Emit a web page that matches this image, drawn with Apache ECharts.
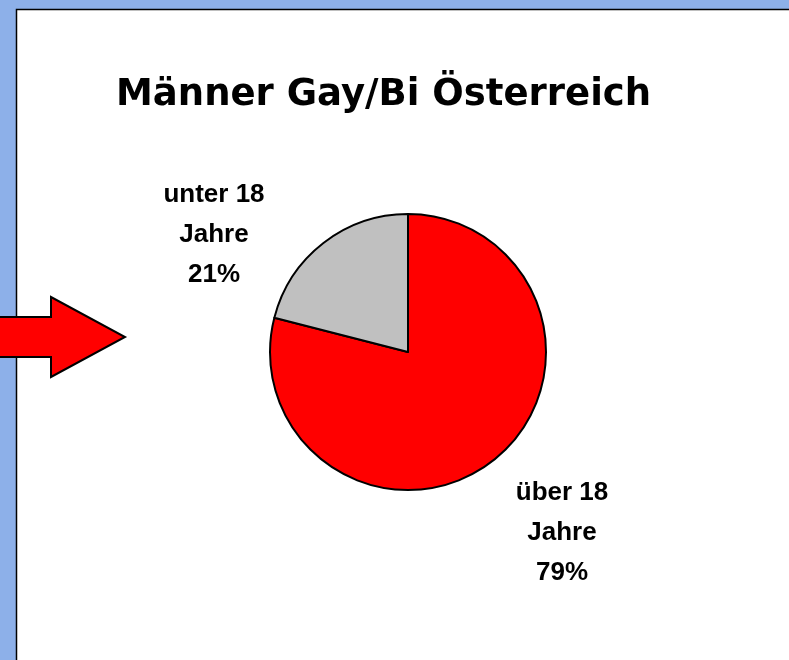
<!DOCTYPE html>
<html>
<head>
<meta charset="utf-8">
<script src="https://cdn.jsdelivr.net/npm/echarts@6/dist/echarts.min.js"></script>
<style>
  body { margin: 0; }
  #main { width: 789px; height: 660px; }
</style>
</head>
<body>
<div id="main"></div>
<script>
// Daten
var titel = 'Männer Gay/Bi Österreich';
var kategorien = ['über 18 Jahre', 'unter 18 Jahre'];
var anteile = [79, 21];
var farben = ['#ff0000', '#c0c0c0'];

// label positions (px) per slice
var labelPos = [[562, 533], [214, 235]];

var myChart = echarts.init(document.getElementById('main'));

myChart.setOption({
  backgroundColor: '#8db0e9',
  animation: false,
  title: {
    text: titel,
    left: 111,
    top: 72,
    textStyle: {
      fontFamily: 'DejaVu Sans',
      fontWeight: 'bold',
      fontSize: 37,
      color: '#000'
    }
  },
  graphic: [
    {
      type: 'rect',
      z: -10,
      shape: { x: 16.5, y: 9.5, width: 800, height: 700 },
      style: { fill: '#fff', stroke: '#000', lineWidth: 1.5 }
    },
    {
      type: 'polygon',
      z: 10,
      shape: {
        points: [[-5, 317], [51, 317], [51, 297], [125, 337], [51, 377], [51, 357], [-5, 357]]
      },
      style: { fill: '#ff0000', stroke: '#000', lineWidth: 2 }
    }
  ],
  series: [
    {
      type: 'pie',
      center: [408, 352],
      radius: 138,
      startAngle: 90,
      clockwise: true,
      data: kategorien.map(function (k, i) {
        return { name: k, value: anteile[i], itemStyle: { color: farben[i] } };
      }),
      itemStyle: { borderColor: '#000', borderWidth: 2 },
      label: {
        show: true,
        formatter: function (p) {
          return p.name.replace(' Jahre', '\nJahre') + '\n' + p.value + '%';
        },
        fontFamily: 'Liberation Sans',
        fontWeight: 'bold',
        fontSize: 26,
        lineHeight: 40,
        color: '#000',
        align: 'center'
      },
      labelLine: { show: false },
      labelLayout: function (params) {
        var p = labelPos[params.dataIndex];
        return { x: p[0], y: p[1], align: 'center', verticalAlign: 'middle' };
      },
      emphasis: { disabled: true }
    }
  ]
});
</script>
</body>
</html>
